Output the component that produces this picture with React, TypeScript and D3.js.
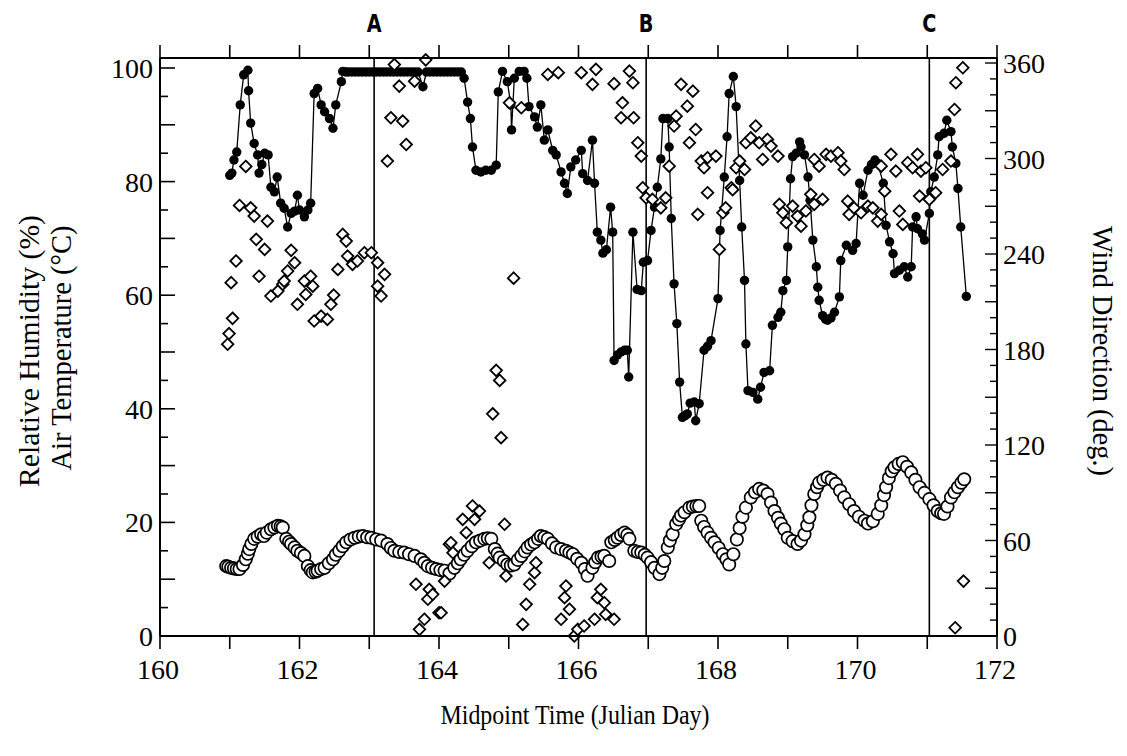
import React from "react";
import * as d3 from "d3";

// ---- data ----
const xTicks = [160, 161, 162, 163, 164, 165, 166, 167, 168, 169, 170, 171, 172];
const xTickLabels = [160, 162, 164, 166, 168, 170, 172];
const leftTickLabels = [0, 20, 40, 60, 80, 100];
const rightTickLabels = [0, 60, 120, 180, 240, 300, 360];
const eventLines = [
  { day: 163.07, label: "A" },
  { day: 166.97, label: "B" },
  { day: 171.03, label: "C" },
];

// Relative humidity (%) - filled circles joined by line
const rhDays = [
  161.0, 161.03, 161.06, 161.1, 161.15, 161.2, 161.26, 161.27, 161.3, 161.35, 161.4, 161.42, 161.46, 161.5, 161.55,
  161.59, 161.64, 161.68, 161.73, 161.78, 161.83, 161.88, 161.93, 161.97, 162.0, 162.07, 162.12, 162.16, 162.21,
  162.26, 162.31, 162.36, 162.43, 162.48, 162.52, 162.6, 162.62, 162.66, 162.7, 162.75, 162.8, 162.85, 162.9, 162.95,
  163.0, 163.05, 163.1, 163.15, 163.2, 163.25, 163.3, 163.35, 163.4, 163.45, 163.5, 163.55, 163.6, 163.65, 163.7,
  163.77, 163.82, 163.87, 163.92, 163.97, 164.02, 164.07, 164.12, 164.17, 164.22, 164.27, 164.32, 164.36, 164.41,
  164.45, 164.48, 164.53, 164.6, 164.67, 164.75, 164.82, 164.85, 164.91, 164.98, 165.03, 165.04, 165.08, 165.15,
  165.22, 165.26, 165.29, 165.37, 165.41, 165.46, 165.51, 165.56, 165.63, 165.68, 165.75, 165.8, 165.84, 165.89,
  165.96, 166.04, 166.06, 166.13, 166.2, 166.23, 166.27, 166.32, 166.35, 166.4, 166.46, 166.49, 166.51, 166.56,
  166.61, 166.66, 166.7, 166.72, 166.78, 166.84, 166.9, 166.93, 166.99, 167.04, 167.09, 167.13, 167.18, 167.21,
  167.28, 167.3, 167.33, 167.37, 167.41, 167.45, 167.49, 167.53, 167.56, 167.6, 167.66, 167.68, 167.73, 167.8,
  167.85, 167.9, 168.0, 168.03, 168.09, 168.13, 168.16, 168.22, 168.26, 168.31, 168.34, 168.38, 168.4, 168.43,
  168.5, 168.57, 168.61, 168.66, 168.74, 168.78, 168.86, 168.9, 168.93, 168.98, 169.0, 169.04, 169.07, 169.12,
  169.17, 169.19, 169.24, 169.29, 169.32, 169.36, 169.41, 169.43, 169.45, 169.5, 169.54, 169.57, 169.62, 169.67,
  169.74, 169.76, 169.84, 169.93, 169.98, 170.03, 170.08, 170.15, 170.2, 170.25, 170.29, 170.37, 170.41, 170.46,
  170.51, 170.53, 170.6, 170.67, 170.72, 170.77, 170.79, 170.84, 170.86, 170.93, 170.96, 171.03, 171.05, 171.1,
  171.15, 171.17, 171.24, 171.28, 171.34, 171.36, 171.41, 171.44, 171.48, 171.56,
];
const rhValues = [
  81.1, 81.5, 83.8, 85.2, 93.5, 98.8, 99.6, 96.0, 90.3, 86.7, 84.7, 81.5, 83.0, 85.0, 84.7,
  79.0, 78.2, 80.8, 76.2, 75.3, 72.0, 74.4, 74.8, 77.6, 75.0, 73.8, 75.0, 76.2, 95.5,
  96.4, 93.5, 92.3, 91.1, 89.4, 93.5, 97.6, 99.4, 99.3, 99.3, 99.3, 99.3, 99.3, 99.3, 99.3,
  99.3, 99.3, 99.3, 99.3, 99.3, 99.3, 99.3, 99.3, 99.3, 99.3, 99.3, 99.3, 99.3, 99.3, 99.3,
  96.7, 99.3, 99.3, 99.3, 99.3, 99.3, 99.3, 99.3, 99.3, 99.3, 99.3, 99.3, 98.2, 94.0,
  91.1, 86.1, 82.0, 81.7, 82.0, 82.0, 82.9, 95.8, 99.4, 97.6, 93.5, 89.1, 98.2, 99.4,
  99.4, 98.2, 93.2, 91.4, 89.6, 93.5, 87.3, 89.1, 85.5, 84.7, 81.7, 79.7, 77.9, 82.6,
  83.8, 85.5, 81.4, 80.2, 87.3, 79.7, 71.1, 69.7, 67.4, 68.0, 75.5, 71.1, 48.5, 49.5,
  50.0, 50.3, 50.3, 45.6, 71.1, 61.0, 60.8, 65.8, 66.1, 71.4, 75.5, 79.0, 84.0, 91.1,
  91.1, 86.1, 73.5, 62.0, 55.0, 44.7, 38.5, 38.8, 39.1, 41.0, 41.2, 37.9, 40.9, 50.3,
  51.0, 52.0, 59.4, 71.4, 80.8, 87.9, 95.5, 98.5, 93.2, 80.2, 72.0, 62.6, 51.4, 43.2,
  42.9, 41.7, 43.8, 46.4, 46.7, 54.7, 56.1, 57.0, 60.8, 62.6, 68.5, 80.5, 84.4, 85.0,
  87.0, 86.1, 84.7, 80.8, 76.7, 69.7, 65.0, 61.4, 59.1, 56.4, 55.8, 55.6, 56.0, 57.0,
  59.7, 66.1, 68.8, 67.9, 69.1, 79.7, 77.6, 82.0, 83.0, 83.8, 83.2, 79.7, 72.3, 69.4,
  67.3, 63.8, 64.4, 65.0, 63.2, 65.0, 72.0, 73.8, 71.7, 70.8, 69.7, 74.4, 78.2, 80.8,
  84.7, 87.9, 88.5, 90.8, 88.8, 86.1, 83.2, 78.8, 72.0, 59.8,
];

// Air temperature (deg C) - open circles
const tempDays = [
  160.95, 160.98, 161.02, 161.06, 161.1, 161.14, 161.19, 161.23, 161.26, 161.28, 161.31, 161.35, 161.4, 161.45,
  161.49, 161.53, 161.59, 161.64, 161.69, 161.73, 161.76, 161.81, 161.85, 161.88, 161.93, 161.97, 162.02, 162.07,
  162.12, 162.16, 162.19, 162.23, 162.26, 162.31, 162.36, 162.42, 162.48, 162.52, 162.57, 162.62, 162.67, 162.73,
  162.79, 162.85, 162.91, 162.97, 163.03, 163.1, 163.17, 163.26, 163.31, 163.36, 163.43, 163.5, 163.57, 163.65,
  163.74, 163.79, 163.84, 163.9, 163.96, 164.02, 164.08, 164.15, 164.22, 164.27, 164.31, 164.36, 164.41, 164.47,
  164.53, 164.59, 164.65, 164.7, 164.75, 164.8, 164.84, 164.87, 164.93, 164.98, 165.03, 165.08, 165.13, 165.18,
  165.23, 165.27, 165.32, 165.37, 165.42, 165.46, 165.51, 165.56, 165.62, 165.68, 165.75, 165.82, 165.87, 165.92,
  165.98, 166.04, 166.09, 166.13, 166.2, 166.24, 166.28, 166.33, 166.37, 166.44, 166.47, 166.52, 166.56, 166.61,
  166.66, 166.7, 166.73, 166.8, 166.85, 166.9, 166.95, 166.99, 167.04, 167.09, 167.16, 167.2, 167.23, 167.28,
  167.31, 167.35, 167.4, 167.44, 167.47, 167.52, 167.59, 167.64, 167.69, 167.73, 167.76, 167.8, 167.85, 167.9,
  167.95, 168.01, 168.07, 168.12, 168.16, 168.22, 168.27, 168.31, 168.35, 168.4, 168.47, 168.53, 168.59, 168.65,
  168.71, 168.76, 168.81, 168.86, 168.9, 168.95, 169.0, 169.07, 169.14, 169.19, 169.24, 169.28, 169.31, 169.34,
  169.38, 169.42, 169.45, 169.51, 169.57, 169.63, 169.69, 169.75, 169.81, 169.88, 169.95, 170.02, 170.1, 170.15,
  170.22, 170.29, 170.34, 170.38, 170.41, 170.45, 170.49, 170.53, 170.59, 170.65, 170.71, 170.77, 170.83, 170.89,
  170.96, 171.03, 171.09, 171.15, 171.2, 171.24, 171.29, 171.34, 171.39, 171.44, 171.49, 171.53,
];
const tempValues = [
  12.3, 12.2, 12.0, 11.9, 11.8, 11.8, 12.5, 13.5, 14.5, 15.3, 16.2, 17.1, 17.5, 17.9,
  17.6, 18.2, 18.8, 19.1, 19.4, 19.3, 19.1, 17.1, 16.6, 16.2, 15.6, 15.0, 14.6, 14.1,
  12.3, 11.6, 11.2, 11.3, 11.5, 11.8, 12.0, 12.8, 13.5, 14.3, 15.0, 15.8, 16.5, 17.0,
  17.3, 17.5, 17.6, 17.4, 17.3, 17.0, 16.8, 16.2, 15.5, 15.0, 14.8, 14.7, 14.4, 14.1,
  13.5, 12.9, 12.3, 12.0, 11.8, 11.6, 11.5, 11.0, 12.0, 12.8, 13.5, 14.3, 15.0, 15.8,
  16.5, 16.8, 17.1, 17.2, 17.1, 15.3, 14.5, 13.8, 13.2, 12.6, 12.4, 12.6, 13.4, 14.1,
  14.9, 15.6, 16.1, 16.5, 17.1, 17.6, 17.4, 17.1, 16.3, 15.6, 15.3, 15.0, 14.7, 14.4,
  13.6, 12.9, 11.8, 10.6, 12.0, 13.0, 13.8, 14.0, 14.1, 13.2, 16.5, 16.9, 17.3, 17.8,
  18.2, 17.8, 17.1, 15.0, 14.8, 14.7, 14.3, 13.8, 13.0, 12.0, 10.9, 12.0, 13.2, 15.6,
  16.8, 17.9, 19.7, 20.5, 21.2, 21.8, 22.6, 22.8, 22.9, 22.9, 20.3, 19.2, 18.2, 17.3,
  16.5, 15.5, 14.4, 13.5, 12.6, 14.4, 17.0, 19.0, 21.0, 22.6, 24.4, 25.3, 25.9, 25.6,
  25.0, 23.5, 22.0, 20.8, 19.8, 18.8, 17.3, 16.7, 16.2, 16.8, 17.9, 19.5, 20.9, 23.0,
  25.0, 26.2, 27.0, 27.5, 27.9, 27.5, 26.8, 25.6, 24.4, 23.2, 22.0, 21.0, 20.3, 19.8,
  20.2, 21.5, 23.0, 24.8, 26.2, 27.8, 29.0, 29.7, 30.3, 30.6, 29.8, 28.8, 27.5, 26.2,
  25.2, 24.1, 23.0, 22.0, 21.6, 21.5, 22.8, 24.4, 25.3, 26.2, 27.0, 27.6,
];

// Wind direction (deg) - open diamonds, right axis
const windDays = [
  160.97, 160.99, 161.02, 161.04, 161.09, 161.14, 161.23, 161.3, 161.35, 161.38, 161.42, 161.5, 161.54, 161.59,
  161.69, 161.76, 161.78, 161.83, 161.88, 161.93, 161.97, 162.07, 162.09, 162.16, 162.19, 162.21, 162.31, 162.4,
  162.45, 162.49, 162.55, 162.62, 162.67, 162.69, 162.76, 162.83, 162.93, 163.03, 163.12, 163.12, 163.17, 163.22,
  163.26, 163.31, 163.36, 163.43, 163.48, 163.53, 163.65, 163.67, 163.72, 163.79, 163.81, 163.84, 163.86, 163.91,
  164.0, 164.03, 164.08, 164.15, 164.17, 164.2, 164.34, 164.39, 164.48, 164.51, 164.58, 164.72, 164.77, 164.82,
  164.87, 164.89, 164.94, 164.96, 165.01, 165.07, 165.18, 165.2, 165.25, 165.3, 165.37, 165.39, 165.56, 165.71,
  165.75, 165.8, 165.82, 165.87, 165.94, 165.99, 166.04, 166.08, 166.2, 166.23, 166.25, 166.27, 166.32, 166.37,
  166.39, 166.51, 166.51, 166.61, 166.63, 166.73, 166.78, 166.79, 166.85, 166.9, 166.92, 166.97, 167.06, 167.18,
  167.25, 167.3, 167.37, 167.4, 167.47, 167.56, 167.59, 167.64, 167.68, 167.71, 167.76, 167.8, 167.85, 167.85,
  167.97, 168.02, 168.07, 168.11, 168.19, 168.21, 168.26, 168.31, 168.38, 168.4, 168.47, 168.54, 168.59, 168.64,
  168.71, 168.76, 168.86, 168.88, 168.93, 168.98, 169.07, 169.14, 169.19, 169.26, 169.33, 169.38, 169.38, 169.45,
  169.5, 169.55, 169.62, 169.72, 169.76, 169.81, 169.86, 169.88, 169.95, 170.05, 170.15, 170.22, 170.29, 170.34,
  170.34, 170.39, 170.48, 170.55, 170.6, 170.65, 170.72, 170.79, 170.86, 170.89, 170.91, 170.98, 171.03, 171.12,
  171.22, 171.34, 171.39, 171.4, 171.41, 171.51, 171.52,
];
const windValues = [
  183.3, 190.0, 222.0, 199.6, 235.6, 270.5, 295.0, 269.0, 263.8, 249.2, 226.0, 242.9, 260.7, 213.6,
  216.7, 221.0, 223.0, 229.3, 242.3, 234.5, 208.4, 223.0, 214.6, 226.0, 219.8, 197.9, 201.0, 198.9,
  208.4, 214.2, 230.3, 252.3, 248.1, 238.7, 233.5, 235.6, 240.8, 240.8, 234.5, 219.8, 213.6, 227.2,
  298.4, 325.6, 359.0, 345.5, 323.5, 308.8, 348.6, 32.5, 4.2, 10.5, 362.0, 23.1, 29.3, 26.2,
  14.6, 14.6, 34.5, 57.6, 58.6, 52.3, 73.3, 64.9, 81.7, 73.3, 78.5, 46.0, 139.6, 166.9,
  160.6, 124.6, 70.2, 37.7, 335.0, 224.8, 331.9, 7.3, 19.9, 32.5, 39.8, 46.0, 352.8, 353.9,
  10.5, 24.1, 31.4, 16.8, 0.0, 4.2, 353.9, 6.3, 346.6, 10.5, 356.0, 24.1, 29.3, 20.9,
  13.6, 347.0, 10.5, 325.6, 335.0, 354.9, 347.6, 325.6, 309.9, 301.5, 281.6, 275.3, 274.3, 269.0,
  275.3, 295.2, 320.4, 326.6, 346.6, 332.9, 309.9, 342.3, 318.2, 264.9, 298.4, 294.2, 300.5, 278.5,
  301.5, 242.9, 265.9, 269.0, 281.6, 280.4, 294.2, 298.4, 293.1, 309.9, 313.0, 320.4, 309.9, 299.4,
  312.0, 307.8, 301.5, 271.2, 265.9, 259.7, 270.1, 263.8, 257.5, 267.0, 277.5, 271.2, 299.4, 295.2,
  274.3, 302.6, 301.5, 303.6, 298.4, 293.1, 273.2, 264.9, 269.0, 265.9, 270.1, 269.0, 260.7, 264.9,
  295.2, 279.5, 302.6, 292.1, 267.0, 258.6, 297.4, 294.2, 302.6, 276.4, 292.1, 294.2, 274.3, 278.5,
  293.1, 298.4, 330.8, 5.2, 347.6, 357.0, 34.5,
];

// ---- layout ----
const W = 1127;
const H = 756;
const X0 = 160;
const X1 = 997;
const Y0 = 636; // value 0
const YTOP = 58; // top frame
const SERIF = "Liberation Serif, Times New Roman, serif";

export default function App() {
  const x = d3.scaleLinear().domain([160, 172]).range([X0, X1]);
  const yL = d3.scaleLinear().domain([0, 100]).range([Y0, 68]);
  const yR = d3.scaleLinear().domain([0, 360]).range([Y0, 63]);

  const rh = rhDays.map((d, i) => [d, rhValues[i]] as [number, number]);
  const temp = tempDays.map((d, i) => [d, tempValues[i]] as [number, number]);
  const wind = windDays.map((d, i) => [d, windValues[i]] as [number, number]);

  const rhLine = d3
    .line<[number, number]>()
    .x((d) => x(d[0]))
    .y((d) => yL(d[1]))(rh);

  const leftTicks = d3.range(0, 101, 5);
  const rightTicks = d3.range(0, 361, 10);

  const diamond = (cx: number, cy: number, h: number) =>
    `M${cx},${cy - h}L${cx + h},${cy}L${cx},${cy + h}L${cx - h},${cy}Z`;

  const serif = { fontFamily: SERIF };

  return (
    <svg width={W} height={H} style={{ position: "absolute", left: 0, top: 0, background: "#fff" }}>
      <rect x={0} y={0} width={W} height={H} fill="#fff" />

      {/* event lines */}
      {eventLines.map((e) => (
        <g key={e.label}>
          <line x1={x(e.day)} x2={x(e.day)} y1={YTOP} y2={Y0} stroke="#000" strokeWidth={1.6} />
          <text
            x={x(e.day)}
            y={32}
            textAnchor="middle"
            style={{ fontFamily: "DejaVu Sans, sans-serif", fontWeight: "bold", fontSize: 24 }}
            transform={`translate(${x(e.day)},32) scale(0.8,1) translate(${-x(e.day)},-32)`}
          >
            {e.label}
          </text>
        </g>
      ))}

      {/* temperature circles */}
      {temp.map((d, i) => (
        <circle key={"t" + i} cx={x(d[0])} cy={yL(d[1])} r={6.2} fill="#fff" stroke="#000" strokeWidth={1.7} />
      ))}

      {/* RH line and dots */}
      <path d={rhLine || ""} fill="none" stroke="#000" strokeWidth={1.3} />
      {rh.map((d, i) => (
        <circle key={"r" + i} cx={x(d[0])} cy={yL(d[1])} r={4.7} fill="#000" />
      ))}

      {/* wind diamonds */}
      {wind.map((d, i) => (
        <path key={"w" + i} d={diamond(x(d[0]), yR(d[1]), 5.8)} fill="#fff" stroke="#000" strokeWidth={1.8} />
      ))}

      {/* frame */}
      <line x1={X0} x2={X0} y1={YTOP} y2={Y0} stroke="#000" strokeWidth={2} />
      <line x1={X1} x2={X1} y1={YTOP} y2={Y0} stroke="#000" strokeWidth={2} />
      <line x1={X0} x2={X1} y1={YTOP} y2={YTOP} stroke="#000" strokeWidth={2} />
      <line x1={X0} x2={X1} y1={Y0} y2={Y0} stroke="#000" strokeWidth={2} />

      {/* x ticks top and bottom */}
      {xTicks.map((t) => (
        <g key={"xt" + t}>
          <line x1={x(t)} x2={x(t)} y1={YTOP} y2={YTOP - 13} stroke="#000" strokeWidth={1.6} />
          <line x1={x(t)} x2={x(t)} y1={Y0} y2={Y0 + 13} stroke="#000" strokeWidth={1.6} />
        </g>
      ))}
      {xTickLabels.map((t) => (
        <text key={"xl" + t} x={x(t) - 2} y={679} textAnchor="middle" style={{ ...serif, fontSize: 28 }}>
          {t}
        </text>
      ))}

      {/* left ticks */}
      {leftTicks.map((t) => (
        <line
          key={"lt" + t}
          x1={X0}
          x2={X0 + (t % 10 === 0 ? 15 : 8)}
          y1={yL(t)}
          y2={yL(t)}
          stroke="#000"
          strokeWidth={1.6}
        />
      ))}
      {leftTickLabels.map((t) => (
        <text key={"ll" + t} x={153} y={yL(t) + 10} textAnchor="end" style={{ ...serif, fontSize: 28 }}>
          {t}
        </text>
      ))}

      {/* right ticks */}
      {rightTicks.map((t) => (
        <line
          key={"rt" + t}
          x1={X1}
          x2={X1 - (t % 30 === 0 ? 12 : 7)}
          y1={yR(t)}
          y2={yR(t)}
          stroke="#000"
          strokeWidth={1.4}
        />
      ))}
      {rightTickLabels.map((t) => (
        <text key={"rl" + t} x={1003} y={yR(t) + 10} textAnchor="start" style={{ ...serif, fontSize: 28 }}>
          {t}
        </text>
      ))}

      {/* axis titles */}
      <text
        x={575}
        y={724}
        textAnchor="middle"
        style={{ ...serif, fontSize: 27 }}
        textLength={269}
        lengthAdjust="spacingAndGlyphs"
      >
        Midpoint Time (Julian Day)
      </text>
      <text
        transform="translate(39,351) rotate(-90)"
        textAnchor="middle"
        style={{ ...serif, fontSize: 29 }}
        textLength={272}
        lengthAdjust="spacingAndGlyphs"
      >
        Relative Humidity (%)
      </text>
      <text
        transform="translate(71,348) rotate(-90)"
        textAnchor="middle"
        style={{ ...serif, fontSize: 29 }}
        textLength={245}
        lengthAdjust="spacingAndGlyphs"
      >
        Air Temperature (°C)
      </text>
      <text
        transform="translate(1093,351) rotate(90)"
        textAnchor="middle"
        style={{ ...serif, fontSize: 29 }}
        textLength={250}
        lengthAdjust="spacingAndGlyphs"
      >
        Wind Direction (deg.)
      </text>
    </svg>
  );
}
